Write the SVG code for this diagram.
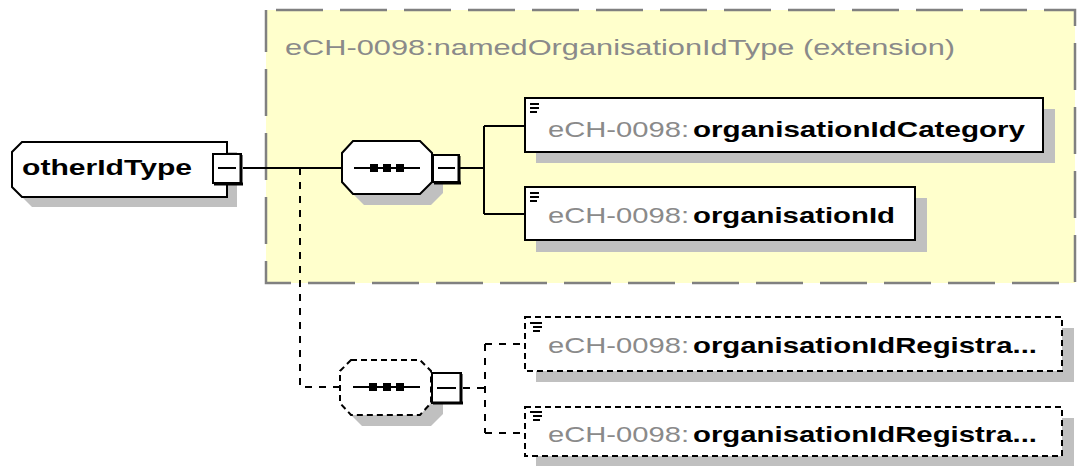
<svg xmlns="http://www.w3.org/2000/svg" width="1079" height="466" viewBox="0 0 1079 466">
<style>
.shadow{fill:#c0c0c0;stroke:none}
.box{fill:#ffffff;stroke:#000;stroke-width:2}
.dbox{fill:#ffffff;stroke:#000;stroke-width:2;stroke-dasharray:6 4}
.conn{fill:none;stroke:#000;stroke-width:2}
.dconn{fill:none;stroke:#000;stroke-width:2;stroke-dasharray:7 7}
.pre{font-family:"Liberation Sans",Arial,sans-serif;font-size:22px;fill:#8a8a8a}
.name{font-family:"Liberation Sans",Arial,sans-serif;font-size:22px;font-weight:bold;fill:#000}
.icon{stroke:#000;stroke-width:2}
.minus{fill:#fff;stroke:#000;stroke-width:2}
</style>
<rect width="1079" height="466" fill="#ffffff"/>
<g id="extension">
<rect x="266" y="10" width="809" height="273" fill="#ffffcc" stroke="#808080" stroke-width="2.5" stroke-dasharray="47 17" stroke-dashoffset="-10"/>
<text class="pre" x="285" y="55" textLength="670" lengthAdjust="spacingAndGlyphs">eCH-0098:namedOrganisationIdType (extension)</text>
</g>
<g id="connectors">
<path class="conn" d="M243 168H342"/>
<path class="conn" d="M460 168H484M484 126V214M484 126H525M484 214H525"/>
<path class="dconn" d="M300 168V387H340"/>
<path class="dconn" d="M463 388H485M485 344V433M485 344H525M485 433H525"/>
</g>
<g id="otherIdType">
<polygon class="shadow" points="32,152 237,152 237,207 32,207 22,197 22,162"/>
<polygon class="box" points="22,142 227,142 227,197 22,197 12,187 12,152"/>
<text class="name" x="22" y="175" textLength="170" lengthAdjust="spacingAndGlyphs">otherIdType</text>
<rect x="213" y="154" width="28" height="29" class="minus"/>
<path d="M241 155V185M214 184H243" stroke="#000" stroke-width="3"/>
<path d="M218 168H236" stroke="#000" stroke-width="2"/>
</g>
<g id="sequence1">
<polygon class="shadow" points="364,151 431,151 443,164 443,193 431,205 364,205 352,193 352,164"/>
<polygon class="box" points="353,141 420,141 432,153 432,182 420,194 353,194 342,182 342,153"/>
<path d="M354 168H420" stroke="#000" stroke-width="2"/>
<rect x="370" y="164" width="8" height="8"/>
<rect x="383" y="164" width="8" height="8"/>
<rect x="396" y="164" width="8" height="8"/>
<rect x="433" y="155" width="26" height="27" class="minus"/>
<path d="M459 156V184M434 183H461" stroke="#000" stroke-width="3"/>
<path d="M438 168H455" stroke="#000" stroke-width="2"/>
</g>
<g id="organisationIdCategory">
<rect class="shadow" x="536" y="109" width="519" height="54"/>
<rect class="box" x="525" y="98" width="518" height="54"/>
<path class="icon" d="M530 104H539M530 108H539M530 112H537"/>
<text class="pre" x="548" y="137" textLength="141" lengthAdjust="spacingAndGlyphs">eCH-0098:</text>
<text class="name" x="693" y="137" textLength="332" lengthAdjust="spacingAndGlyphs">organisationIdCategory</text>
</g>
<g id="organisationId">
<rect class="shadow" x="536" y="198" width="391" height="54"/>
<rect class="box" x="525" y="187" width="390" height="53"/>
<path class="icon" d="M530 193H539M530 197H539M530 201H537"/>
<text class="pre" x="548" y="223" textLength="141" lengthAdjust="spacingAndGlyphs">eCH-0098:</text>
<text class="name" x="693" y="223" textLength="202" lengthAdjust="spacingAndGlyphs">organisationId</text>
</g>
<g id="sequence2">
<polygon class="shadow" points="362,371 431,371 443,383 443,414 431,426 362,426 350,414 350,383"/>
<polygon class="dbox" points="351,360 420,360 431,371 431,403 420,415 351,415 340,403 340,371"/>
<path d="M353 387H420" stroke="#000" stroke-width="2"/>
<rect x="369" y="383" width="8" height="8"/>
<rect x="383" y="383" width="8" height="8"/>
<rect x="396" y="383" width="8" height="8"/>
<rect x="432" y="373" width="29" height="30" class="minus"/>
<path d="M461 374V404M433 403H463" stroke="#000" stroke-width="3"/>
<path d="M437 388H456" stroke="#000" stroke-width="2"/>
</g>
<g id="organisationIdRegistration1">
<rect class="shadow" x="536" y="328" width="538" height="54"/>
<rect class="dbox" x="525" y="317" width="537" height="54"/>
<path class="icon" d="M530 323H542M533 327H542M533 331H540"/>
<text class="pre" x="548" y="353" textLength="141" lengthAdjust="spacingAndGlyphs">eCH-0098:</text>
<text class="name" x="693" y="353" textLength="344" lengthAdjust="spacingAndGlyphs">organisationIdRegistra...</text>
</g>
<g id="organisationIdRegistration2">
<rect class="shadow" x="536" y="418" width="538" height="50"/>
<rect class="dbox" x="525" y="407" width="537" height="49"/>
<path class="icon" d="M530 412H542M533 416H542M533 420H540"/>
<text class="pre" x="548" y="442" textLength="141" lengthAdjust="spacingAndGlyphs">eCH-0098:</text>
<text class="name" x="693" y="442" textLength="344" lengthAdjust="spacingAndGlyphs">organisationIdRegistra...</text>
</g>
</svg>
